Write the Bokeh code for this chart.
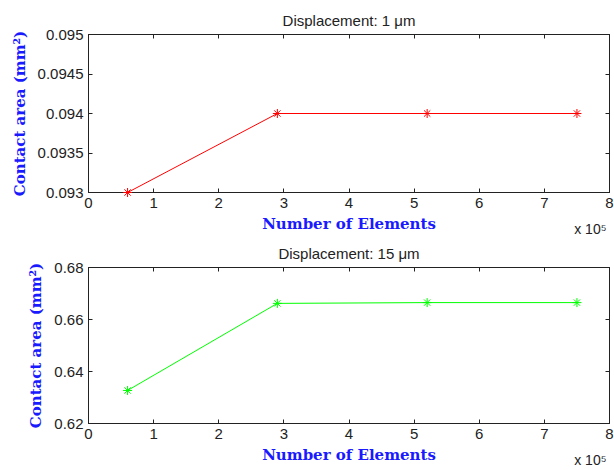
from bokeh.plotting import figure
from bokeh.layouts import column
from bokeh.models import (Range1d, LinearAxis, FixedTicker, CustomJSTickFormatter, Title)
from bokeh.embed import file_html
from bokeh.resources import INLINE

# Mesh convergence data
elements = [60000, 290000, 520000, 750000]
area_1um = [0.0930, 0.0940, 0.0940, 0.0940]
area_15um = [0.6327, 0.6662, 0.6665, 0.6665]

x_ticks = [0, 100000, 200000, 300000, 400000, 500000, 600000, 700000, 800000]
y_ticks_1 = [0.093, 0.0935, 0.094, 0.0945, 0.095]
y_ticks_2 = [0.62, 0.64, 0.66, 0.68]
y_labels_1 = {0.093: "0.093", 0.0935: "0.0935", 0.094: "0.094", 0.0945: "0.0945", 0.095: "0.095"}
y_labels_2 = {0.62: "0.62", 0.64: "0.64", 0.66: "0.66", 0.68: "0.68"}

SANS = "Liberation Sans"
SERIF = "DejaVu Serif"
INK = "#222222"


def mirror_axis(ticks):
    return LinearAxis(ticker=FixedTicker(ticks=ticks),
                      formatter=CustomJSTickFormatter(code="return '';"),
                      major_label_text_font_size="1px", major_label_standoff=0,
                      major_tick_in=4, major_tick_out=0, minor_tick_line_color=None,
                      axis_line_color=INK, major_tick_line_color=INK)


def make_panel(title, ys, color, yrange, yticks, ylabels, height, top, bottom):
    p = figure(width=614, height=height, output_backend="svg", toolbar_location=None,
               x_range=Range1d(0, 800000), y_range=Range1d(*yrange),
               min_border_left=88, min_border_right=5,
               min_border_top=top, min_border_bottom=bottom)
    p.xgrid.visible = False
    p.ygrid.visible = False
    p.outline_line_color = INK
    p.background_fill_color = "white"
    p.border_fill_color = "white"

    xa = p.xaxis[0]
    xa.ticker = FixedTicker(ticks=x_ticks)
    xa.formatter = CustomJSTickFormatter(code="return (tick/1e5).toFixed(0);")
    xa.axis_label = "Number of Elements"
    ya = p.yaxis[0]
    ya.ticker = FixedTicker(ticks=yticks)
    ya.major_label_overrides = ylabels
    ya.axis_label = "Contact area (mm²)"

    for ax in (xa, ya):
        ax.major_tick_in = 4
        ax.major_tick_out = 0
        ax.minor_tick_line_color = None
        ax.axis_line_color = INK
        ax.major_tick_line_color = INK
        ax.major_label_text_font = SANS
        ax.major_label_text_font_size = "15px"
        ax.major_label_text_color = INK
        ax.axis_label_text_font = SERIF
        ax.axis_label_text_font_size = "15px"
        ax.axis_label_text_font_style = "bold"
        ax.axis_label_text_color = "#1a1aff"
    xa.major_label_standoff = 5
    xa.axis_label_standoff = 4
    ya.major_label_standoff = 5
    ya.axis_label_standoff = 6

    # Box-style ticks on the top and right edges
    p.add_layout(mirror_axis(x_ticks), "above")
    p.add_layout(mirror_axis(yticks), "right")

    # Panel title
    p.title = Title(text=title, align="center", text_font=SANS, text_font_size="15px",
                    text_font_style="normal", text_color=INK, standoff=11)

    # Axis multiplier, tucked up beside the x-axis label
    p.add_layout(Title(text="x 10⁵", align="right", vertical_align="top", offset=3,
                       standoff=-29, text_font=SANS, text_font_size="14px",
                       text_font_style="normal", text_color=INK), "below")

    # Series drawn above the axes so the markers sit on top of the box lines
    p.line(elements, ys, line_color=color, line_width=1, level="overlay")
    p.scatter(elements, ys, marker="asterisk", size=9, line_color=color, line_width=1,
              level="overlay")
    return p


p1 = make_panel("Displacement: 1 μm", area_1um, "#ff0000", (0.093, 0.095),
                y_ticks_1, y_labels_1, 237, 34, 45)
p2 = make_panel("Displacement: 15 μm", area_15um, "#00ff00", (0.62, 0.68),
                y_ticks_2, y_labels_2, 233, 30, 47)

p = column(p1, p2, spacing=0)
open("out.html", "w").write(file_html(p, INLINE))
